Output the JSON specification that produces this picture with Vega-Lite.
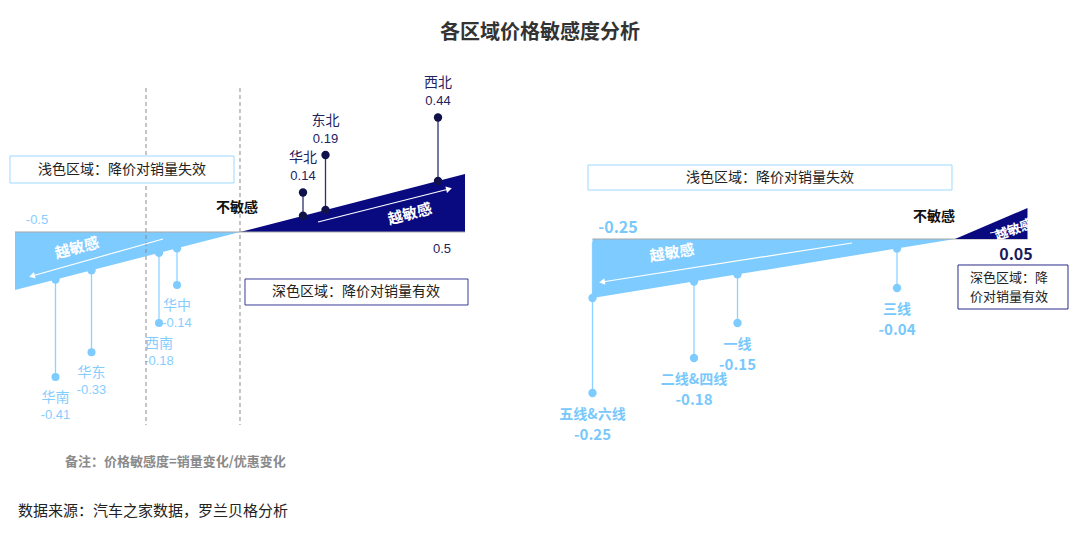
{
  "$schema": "https://vega.github.io/schema/vega-lite/v6.json",
  "width": 1080,
  "height": 542,
  "autosize": {"type": "fit", "contains": "padding"},
  "padding": 0,
  "background": "white",
  "config": {
    "axis": {"disable": true},
    "legend": {"disable": true},
    "view": {"stroke": null},
    "text": {"font": "Liberation Sans, Noto Sans CJK SC", "baseline": "middle", "align": "center"}
  },
  "datasets": {
    "regions": [
      {"region": "华南", "value": -0.41},
      {"region": "华东", "value": -0.33},
      {"region": "西南", "value": -0.18},
      {"region": "华中", "value": -0.14},
      {"region": "华北", "value": 0.14},
      {"region": "东北", "value": 0.19},
      {"region": "西北", "value": 0.44}
    ],
    "tiers": [
      {"tier": "五线&六线", "value": -0.25},
      {"tier": "二线&四线", "value": -0.18},
      {"tier": "一线", "value": -0.15},
      {"tier": "三线", "value": -0.04}
    ],
    "leftScale": [
      {"v": -0.5, "zone": "失效"},
      {"v": 0, "zone": "失效"},
      {"v": 0, "zone": "有效"},
      {"v": 0.5, "zone": "有效"}
    ],
    "rightLight": [{"v": -0.25}, {"v": 0}],
    "rightDark": [{"v": 0}, {"v": 0.05}]
  },
  "data": {"values": [{}]},
  "resolve": {"scale": {"x": "independent", "y": "independent", "color": "independent"}},
  "layer": [
    {
      "data": {"name": "regions"},
      "transform": [
        {"filter": "datum.value > 0"},
        {"window": [{"op": "rank", "as": "lvl"}], "sort": [{"field": "value", "order": "ascending"}]}
      ],
      "layer": [
        {
          "mark": {"type": "rule", "color": "#2e2e6e", "strokeWidth": 1.3},
          "encoding": {
            "x": {"field": "value", "type": "quantitative", "scale": {"domain": [-0.533333, 1.866667], "nice": false, "zero": false}},
            "y": {"field": "lvl", "type": "quantitative", "scale": {"domain": [-8.32, 6.133333], "nice": false, "zero": false}},
            "y2": {"datum": 0}
          }
        },
        {
          "mark": {"type": "point", "filled": true, "size": 70, "opacity": 1, "color": "#10104a"},
          "encoding": {
            "x": {"field": "value", "type": "quantitative", "scale": {"domain": [-0.533333, 1.866667], "nice": false, "zero": false}},
            "y": {"field": "lvl", "type": "quantitative", "scale": {"domain": [-8.32, 6.133333], "nice": false, "zero": false}}
          }
        },
        {
          "mark": {"type": "text", "dy": -34, "fontSize": 14, "color": "#23235f"},
          "encoding": {
            "x": {"field": "value", "type": "quantitative", "scale": {"domain": [-0.533333, 1.866667], "nice": false, "zero": false}},
            "y": {"field": "lvl", "type": "quantitative", "scale": {"domain": [-8.32, 6.133333], "nice": false, "zero": false}},
            "text": {"field": "region", "type": "nominal"}
          }
        },
        {
          "mark": {"type": "text", "dy": -16, "fontSize": 13, "color": "#23235f"},
          "encoding": {
            "x": {"field": "value", "type": "quantitative", "scale": {"domain": [-0.533333, 1.866667], "nice": false, "zero": false}},
            "y": {"field": "lvl", "type": "quantitative", "scale": {"domain": [-8.32, 6.133333], "nice": false, "zero": false}},
            "text": {"field": "value", "type": "nominal"}
          }
        }
      ]
    },
    {
      "data": {"name": "regions"},
      "transform": [
        {"filter": "datum.value < 0"},
        {"window": [{"op": "rank", "as": "lvl"}], "sort": [{"field": "value", "order": "descending"}]}
      ],
      "layer": [
        {
          "mark": {"type": "rule", "color": "#8fd2ff", "strokeWidth": 1.3},
          "encoding": {
            "x": {"field": "value", "type": "quantitative", "scale": {"domain": [-0.533333, 1.866667], "nice": false, "zero": false}},
            "y": {"field": "lvl", "type": "quantitative", "scale": {"type": "sqrt", "domain": [-4.400874, 14.390477], "reverse": true, "nice": false, "zero": false}},
            "y2": {"datum": 0.23}
          }
        },
        {
          "mark": {"type": "point", "filled": true, "size": 64, "opacity": 1, "color": "#7ecbff"},
          "encoding": {
            "x": {"field": "value", "type": "quantitative", "scale": {"domain": [-0.533333, 1.866667], "nice": false, "zero": false}},
            "y": {"field": "lvl", "type": "quantitative", "scale": {"type": "sqrt", "domain": [-4.400874, 14.390477], "reverse": true, "nice": false, "zero": false}}
          }
        },
        {
          "mark": {"type": "text", "dy": 21, "fontSize": 14, "color": "#86cdff"},
          "encoding": {
            "x": {"field": "value", "type": "quantitative", "scale": {"domain": [-0.533333, 1.866667], "nice": false, "zero": false}},
            "y": {"field": "lvl", "type": "quantitative", "scale": {"type": "sqrt", "domain": [-4.400874, 14.390477], "reverse": true, "nice": false, "zero": false}},
            "text": {"field": "region", "type": "nominal"}
          }
        },
        {
          "mark": {"type": "text", "dy": 38, "fontSize": 13, "color": "#86cdff"},
          "encoding": {
            "x": {"field": "value", "type": "quantitative", "scale": {"domain": [-0.533333, 1.866667], "nice": false, "zero": false}},
            "y": {"field": "lvl", "type": "quantitative", "scale": {"type": "sqrt", "domain": [-4.400874, 14.390477], "reverse": true, "nice": false, "zero": false}},
            "text": {"field": "value", "type": "nominal"}
          }
        }
      ]
    },
    {
      "data": {"name": "tiers"},
      "transform": [
        {"window": [{"op": "rank", "as": "lvl"}], "sort": [{"field": "value", "order": "descending"}]}
      ],
      "layer": [
        {
          "mark": {"type": "rule", "color": "#8fd2ff", "strokeWidth": 1.3},
          "encoding": {
            "x": {"field": "value", "type": "quantitative", "scale": {"domain": [-0.658621, 0.086207], "nice": false, "zero": false}},
            "y": {"field": "lvl", "type": "quantitative", "scale": {"domain": [-7.228571, 8.257143], "reverse": true, "nice": false, "zero": false}},
            "y2": {"datum": -0.31}
          }
        },
        {
          "mark": {"type": "point", "filled": true, "size": 70, "opacity": 1, "color": "#7ecbff"},
          "encoding": {
            "x": {"field": "value", "type": "quantitative", "scale": {"domain": [-0.658621, 0.086207], "nice": false, "zero": false}},
            "y": {"field": "lvl", "type": "quantitative", "scale": {"domain": [-7.228571, 8.257143], "reverse": true, "nice": false, "zero": false}}
          }
        },
        {
          "mark": {"type": "text", "dy": 22, "fontSize": 14, "fontWeight": "bold", "font": "Noto Sans CJK SC", "color": "#79c8fb"},
          "encoding": {
            "x": {"field": "value", "type": "quantitative", "scale": {"domain": [-0.658621, 0.086207], "nice": false, "zero": false}},
            "y": {"field": "lvl", "type": "quantitative", "scale": {"domain": [-7.228571, 8.257143], "reverse": true, "nice": false, "zero": false}},
            "text": {"field": "tier", "type": "nominal"}
          }
        },
        {
          "mark": {"type": "text", "dy": 42, "fontSize": 15, "fontWeight": "bold", "font": "Noto Sans CJK SC", "color": "#79c8fb"},
          "encoding": {
            "x": {"field": "value", "type": "quantitative", "scale": {"domain": [-0.658621, 0.086207], "nice": false, "zero": false}},
            "y": {"field": "lvl", "type": "quantitative", "scale": {"domain": [-7.228571, 8.257143], "reverse": true, "nice": false, "zero": false}},
            "text": {"field": "value", "type": "nominal"}
          }
        }
      ]
    },
    {
      "layer": [
        {
          "data": {"name": "leftScale"},
          "mark": {"type": "area", "opacity": 1},
          "encoding": {
            "x": {"field": "v", "type": "quantitative", "scale": {"domain": [-0.533333, 1.866667], "nice": false, "zero": false}},
            "y": {"field": "v", "type": "quantitative", "stack": null, "scale": {"domain": [-2.672414, 2], "nice": false, "zero": false}},
            "y2": {"datum": 0},
            "color": {"field": "zone", "type": "nominal", "scale": {"domain": ["失效", "有效"], "range": ["#7ecbff", "#0a0a80"]}, "legend": null}
          }
        },
        {
          "mark": {"type": "rule", "color": "#a8a8a8", "strokeWidth": 1},
          "encoding": {
            "x": {"datum": -0.5, "type": "quantitative", "scale": {"domain": [-0.533333, 1.866667], "nice": false, "zero": false}},
            "x2": {"datum": 0.5},
            "y": {"datum": 0, "type": "quantitative", "scale": {"domain": [-2.672414, 2], "nice": false, "zero": false}}
          }
        },
        {
          "mark": {"type": "rule", "color": "#8a8a8a", "strokeWidth": 1, "strokeDash": [4, 3]},
          "encoding": {
            "x": {"datum": -0.208889, "type": "quantitative", "scale": {"domain": [-0.533333, 1.866667], "nice": false, "zero": false}},
            "y": {"datum": 1.241379, "type": "quantitative", "scale": {"domain": [-2.672414, 2], "nice": false, "zero": false}},
            "y2": {"datum": -1.663793}
          }
        },
        {
          "mark": {"type": "rule", "color": "#8a8a8a", "strokeWidth": 1, "strokeDash": [4, 3]},
          "encoding": {
            "x": {"datum": 0, "type": "quantitative", "scale": {"domain": [-0.533333, 1.866667], "nice": false, "zero": false}},
            "y": {"datum": 1.241379, "type": "quantitative", "scale": {"domain": [-2.672414, 2], "nice": false, "zero": false}},
            "y2": {"datum": -1.663793}
          }
        },
        {
          "mark": {"type": "rect", "fill": "white", "stroke": "#9fd8ff", "strokeWidth": 1},
          "encoding": {
            "x": {"datum": -0.511111, "type": "quantitative", "scale": {"domain": [-0.533333, 1.866667], "nice": false, "zero": false}},
            "x2": {"datum": -0.013333},
            "y": {"datum": 0.655172, "type": "quantitative", "scale": {"domain": [-2.672414, 2], "nice": false, "zero": false}},
            "y2": {"datum": 0.422414}
          }
        },
        {
          "mark": {"type": "rect", "fill": "white", "stroke": "#3b3b9a", "strokeWidth": 1},
          "encoding": {
            "x": {"datum": 0.011111, "type": "quantitative", "scale": {"domain": [-0.533333, 1.866667], "nice": false, "zero": false}},
            "x2": {"datum": 0.506667},
            "y": {"datum": -0.405172, "type": "quantitative", "scale": {"domain": [-2.672414, 2], "nice": false, "zero": false}},
            "y2": {"datum": -0.62931}
          }
        },
        {
          "mark": {"type": "text", "text": "浅色区域：降价对销量失效", "fontSize": 14, "font": "Noto Sans CJK SC", "color": "#222222"},
          "encoding": {
            "x": {"datum": -0.262222, "type": "quantitative", "scale": {"domain": [-0.533333, 1.866667], "nice": false, "zero": false}},
            "y": {"datum": 0.538793, "type": "quantitative", "scale": {"domain": [-2.672414, 2], "nice": false, "zero": false}}
          }
        },
        {
          "mark": {"type": "text", "text": "深色区域：降价对销量有效", "fontSize": 14, "font": "Noto Sans CJK SC", "color": "#222222"},
          "encoding": {
            "x": {"datum": 0.257778, "type": "quantitative", "scale": {"domain": [-0.533333, 1.866667], "nice": false, "zero": false}},
            "y": {"datum": -0.517241, "type": "quantitative", "scale": {"domain": [-2.672414, 2], "nice": false, "zero": false}}
          }
        },
        {
          "data": {"name": "regions"},
          "mark": {"type": "point", "filled": true, "size": 70, "opacity": 1},
          "encoding": {
            "x": {"field": "value", "type": "quantitative", "scale": {"domain": [-0.533333, 1.866667], "nice": false, "zero": false}},
            "y": {"field": "value", "type": "quantitative", "scale": {"domain": [-2.672414, 2], "nice": false, "zero": false}},
            "color": {"condition": {"test": "datum.value > 0", "value": "#12124a"}, "value": "#7ecbff"}
          }
        },
        {
          "mark": {"type": "rule", "color": "white", "strokeWidth": 1.2},
          "encoding": {
            "x": {"datum": -0.171111, "type": "quantitative", "scale": {"domain": [-0.533333, 1.866667], "nice": false, "zero": false}},
            "x2": {"datum": -0.462222},
            "y": {"datum": -0.060345, "type": "quantitative", "scale": {"domain": [-2.672414, 2], "nice": false, "zero": false}},
            "y2": {"datum": -0.37931}
          }
        },
        {
          "mark": {"type": "point", "shape": "triangle-left", "filled": true, "color": "white", "size": 45, "angle": -15, "opacity": 1},
          "encoding": {
            "x": {"datum": -0.462222, "type": "quantitative", "scale": {"domain": [-0.533333, 1.866667], "nice": false, "zero": false}},
            "y": {"datum": -0.37931, "type": "quantitative", "scale": {"domain": [-2.672414, 2], "nice": false, "zero": false}}
          }
        },
        {
          "mark": {"type": "rule", "color": "white", "strokeWidth": 1.2},
          "encoding": {
            "x": {"datum": 0.173333, "type": "quantitative", "scale": {"domain": [-0.533333, 1.866667], "nice": false, "zero": false}},
            "x2": {"datum": 0.464444},
            "y": {"datum": 0.086207, "type": "quantitative", "scale": {"domain": [-2.672414, 2], "nice": false, "zero": false}},
            "y2": {"datum": 0.37069}
          }
        },
        {
          "mark": {"type": "point", "shape": "triangle-right", "filled": true, "color": "white", "size": 45, "angle": -14, "opacity": 1},
          "encoding": {
            "x": {"datum": 0.464444, "type": "quantitative", "scale": {"domain": [-0.533333, 1.866667], "nice": false, "zero": false}},
            "y": {"datum": 0.37069, "type": "quantitative", "scale": {"domain": [-2.672414, 2], "nice": false, "zero": false}}
          }
        },
        {
          "mark": {"type": "text", "text": "越敏感", "fontSize": 15, "fontWeight": "bold", "font": "Noto Sans CJK SC", "color": "white", "angle": -15},
          "encoding": {
            "x": {"datum": -0.362222, "type": "quantitative", "scale": {"domain": [-0.533333, 1.866667], "nice": false, "zero": false}},
            "y": {"datum": -0.137931, "type": "quantitative", "scale": {"domain": [-2.672414, 2], "nice": false, "zero": false}}
          }
        },
        {
          "mark": {"type": "text", "text": "越敏感", "fontSize": 15, "fontWeight": "bold", "font": "Noto Sans CJK SC", "color": "white", "angle": -15},
          "encoding": {
            "x": {"datum": 0.377778, "type": "quantitative", "scale": {"domain": [-0.533333, 1.866667], "nice": false, "zero": false}},
            "y": {"datum": 0.155172, "type": "quantitative", "scale": {"domain": [-2.672414, 2], "nice": false, "zero": false}}
          }
        },
        {
          "mark": {"type": "text", "text": "-0.5", "fontSize": 13, "color": "#86cdff"},
          "encoding": {
            "x": {"datum": -0.451111, "type": "quantitative", "scale": {"domain": [-0.533333, 1.866667], "nice": false, "zero": false}},
            "y": {"datum": 0.103448, "type": "quantitative", "scale": {"domain": [-2.672414, 2], "nice": false, "zero": false}}
          }
        },
        {
          "mark": {"type": "text", "text": "0.5", "fontSize": 13, "color": "#23235f"},
          "encoding": {
            "x": {"datum": 0.448889, "type": "quantitative", "scale": {"domain": [-0.533333, 1.866667], "nice": false, "zero": false}},
            "y": {"datum": -0.146552, "type": "quantitative", "scale": {"domain": [-2.672414, 2], "nice": false, "zero": false}}
          }
        },
        {
          "mark": {"type": "text", "text": "不敏感", "fontSize": 14, "fontWeight": "bold", "font": "Noto Sans CJK SC", "color": "#111111"},
          "encoding": {
            "x": {"datum": -0.006667, "type": "quantitative", "scale": {"domain": [-0.533333, 1.866667], "nice": false, "zero": false}},
            "y": {"datum": 0.206897, "type": "quantitative", "scale": {"domain": [-2.672414, 2], "nice": false, "zero": false}}
          }
        },
        {
          "mark": {"type": "text", "text": "各区域价格敏感度分析", "fontSize": 20, "fontWeight": "bold", "font": "Noto Sans CJK SC", "color": "#333333"},
          "encoding": {
            "x": {"datum": 0.666667, "type": "quantitative", "scale": {"domain": [-0.533333, 1.866667], "nice": false, "zero": false}},
            "y": {"datum": 1.715517, "type": "quantitative", "scale": {"domain": [-2.672414, 2], "nice": false, "zero": false}}
          }
        },
        {
          "mark": {"type": "text", "text": "备注：价格敏感度=销量变化/优惠变化", "fontSize": 13, "fontWeight": "bold", "font": "Noto Sans CJK SC", "color": "#8a8a8a", "align": "left"},
          "encoding": {
            "x": {"datum": -0.388889, "type": "quantitative", "scale": {"domain": [-0.533333, 1.866667], "nice": false, "zero": false}},
            "y": {"datum": -1.982759, "type": "quantitative", "scale": {"domain": [-2.672414, 2], "nice": false, "zero": false}}
          }
        },
        {
          "mark": {"type": "text", "text": "数据来源：汽车之家数据，罗兰贝格分析", "fontSize": 15, "font": "Noto Sans CJK SC", "color": "#222222", "align": "left"},
          "encoding": {
            "x": {"datum": -0.493333, "type": "quantitative", "scale": {"domain": [-0.533333, 1.866667], "nice": false, "zero": false}},
            "y": {"datum": -2.405172, "type": "quantitative", "scale": {"domain": [-2.672414, 2], "nice": false, "zero": false}}
          }
        }
      ]
    },
    {
      "layer": [
        {
          "data": {"name": "rightLight"},
          "mark": {"type": "area", "color": "#7ecbff", "opacity": 1},
          "encoding": {
            "x": {"field": "v", "type": "quantitative", "scale": {"domain": [-0.658621, 0.086207], "nice": false, "zero": false}},
            "y": {"field": "v", "type": "quantitative", "stack": null, "scale": {"domain": [-1.283898, 1.012712], "nice": false, "zero": false}},
            "y2": {"datum": 0}
          }
        },
        {
          "mark": {"type": "rule", "color": "#a8a8a8", "strokeWidth": 1},
          "encoding": {
            "x": {"datum": -0.25, "type": "quantitative", "scale": {"domain": [-0.658621, 0.086207], "nice": false, "zero": false}},
            "x2": {"datum": 0.05},
            "y": {"datum": 0, "type": "quantitative", "scale": {"domain": [-1.283898, 1.012712], "nice": false, "zero": false}}
          }
        },
        {
          "mark": {"type": "rect", "fill": "white", "stroke": "#9fd8ff", "strokeWidth": 1},
          "encoding": {
            "x": {"datum": -0.253103, "type": "quantitative", "scale": {"domain": [-0.658621, 0.086207], "nice": false, "zero": false}},
            "x2": {"datum": -0.002069},
            "y": {"datum": 0.313559, "type": "quantitative", "scale": {"domain": [-1.283898, 1.012712], "nice": false, "zero": false}},
            "y2": {"datum": 0.207627}
          }
        },
        {
          "mark": {"type": "rect", "fill": "white", "stroke": "#2a2a8a", "strokeWidth": 1},
          "encoding": {
            "x": {"datum": 0.002069, "type": "quantitative", "scale": {"domain": [-0.658621, 0.086207], "nice": false, "zero": false}},
            "x2": {"datum": 0.077931},
            "y": {"datum": -0.110169, "type": "quantitative", "scale": {"domain": [-1.283898, 1.012712], "nice": false, "zero": false}},
            "y2": {"datum": -0.29661}
          }
        },
        {
          "mark": {"type": "text", "text": "浅色区域：降价对销量失效", "fontSize": 14, "font": "Noto Sans CJK SC", "color": "#222222"},
          "encoding": {
            "x": {"datum": -0.127586, "type": "quantitative", "scale": {"domain": [-0.658621, 0.086207], "nice": false, "zero": false}},
            "y": {"datum": 0.260593, "type": "quantitative", "scale": {"domain": [-1.283898, 1.012712], "nice": false, "zero": false}}
          }
        },
        {
          "mark": {"type": "text", "text": "深色区域：降", "fontSize": 13, "font": "Noto Sans CJK SC", "color": "#222222", "align": "left"},
          "encoding": {
            "x": {"datum": 0.010345, "type": "quantitative", "scale": {"domain": [-0.658621, 0.086207], "nice": false, "zero": false}},
            "y": {"datum": -0.165254, "type": "quantitative", "scale": {"domain": [-1.283898, 1.012712], "nice": false, "zero": false}}
          }
        },
        {
          "mark": {"type": "text", "text": "价对销量有效", "fontSize": 13, "font": "Noto Sans CJK SC", "color": "#222222", "align": "left"},
          "encoding": {
            "x": {"datum": 0.010345, "type": "quantitative", "scale": {"domain": [-0.658621, 0.086207], "nice": false, "zero": false}},
            "y": {"datum": -0.245763, "type": "quantitative", "scale": {"domain": [-1.283898, 1.012712], "nice": false, "zero": false}}
          }
        },
        {
          "data": {"name": "tiers"},
          "mark": {"type": "point", "filled": true, "size": 70, "opacity": 1, "color": "#7ecbff"},
          "encoding": {
            "x": {"field": "value", "type": "quantitative", "scale": {"domain": [-0.658621, 0.086207], "nice": false, "zero": false}},
            "y": {"field": "value", "type": "quantitative", "scale": {"domain": [-1.283898, 1.012712], "nice": false, "zero": false}}
          }
        },
        {
          "mark": {"type": "rule", "color": "white", "strokeWidth": 1.2},
          "encoding": {
            "x": {"datum": -0.071034, "type": "quantitative", "scale": {"domain": [-0.658621, 0.086207], "nice": false, "zero": false}},
            "x2": {"datum": -0.243448},
            "y": {"datum": -0.016949, "type": "quantitative", "scale": {"domain": [-1.283898, 1.012712], "nice": false, "zero": false}},
            "y2": {"datum": -0.182203}
          }
        },
        {
          "mark": {"type": "point", "shape": "triangle-left", "filled": true, "color": "white", "size": 45, "angle": -9, "opacity": 1},
          "encoding": {
            "x": {"datum": -0.243448, "type": "quantitative", "scale": {"domain": [-0.658621, 0.086207], "nice": false, "zero": false}},
            "y": {"datum": -0.182203, "type": "quantitative", "scale": {"domain": [-1.283898, 1.012712], "nice": false, "zero": false}}
          }
        },
        {
          "mark": {"type": "text", "text": "越敏感", "fontSize": 15, "fontWeight": "bold", "font": "Noto Sans CJK SC", "color": "white", "angle": -9},
          "encoding": {
            "x": {"datum": -0.195172, "type": "quantitative", "scale": {"domain": [-0.658621, 0.086207], "nice": false, "zero": false}},
            "y": {"datum": -0.059322, "type": "quantitative", "scale": {"domain": [-1.283898, 1.012712], "nice": false, "zero": false}}
          }
        },
        {
          "mark": {"type": "text", "text": "-0.25", "fontSize": 16, "fontWeight": "bold", "font": "Noto Sans CJK SC", "color": "#79c8fb"},
          "encoding": {
            "x": {"datum": -0.232414, "type": "quantitative", "scale": {"domain": [-0.658621, 0.086207], "nice": false, "zero": false}},
            "y": {"datum": 0.04661, "type": "quantitative", "scale": {"domain": [-1.283898, 1.012712], "nice": false, "zero": false}}
          }
        },
        {
          "mark": {"type": "text", "text": "0.05", "fontSize": 16, "fontWeight": "bold", "font": "Noto Sans CJK SC", "color": "#1a1a5e"},
          "encoding": {
            "x": {"datum": 0.042069, "type": "quantitative", "scale": {"domain": [-0.658621, 0.086207], "nice": false, "zero": false}},
            "y": {"datum": -0.067797, "type": "quantitative", "scale": {"domain": [-1.283898, 1.012712], "nice": false, "zero": false}}
          }
        },
        {
          "mark": {"type": "text", "text": "不敏感", "fontSize": 14, "fontWeight": "bold", "font": "Noto Sans CJK SC", "color": "#111111"},
          "encoding": {
            "x": {"datum": -0.014483, "type": "quantitative", "scale": {"domain": [-0.658621, 0.086207], "nice": false, "zero": false}},
            "y": {"datum": 0.09322, "type": "quantitative", "scale": {"domain": [-1.283898, 1.012712], "nice": false, "zero": false}}
          }
        }
      ]
    },
    {
      "layer": [
        {
          "data": {"name": "rightDark"},
          "mark": {"type": "area", "color": "#0a0a80", "opacity": 1},
          "encoding": {
            "x": {"field": "v", "type": "quantitative", "scale": {"domain": [-0.658621, 0.086207], "nice": false, "zero": false}},
            "y": {"field": "v", "type": "quantitative", "stack": null, "scale": {"domain": [-0.48871, 0.385484], "nice": false, "zero": false}},
            "y2": {"datum": 0}
          }
        },
        {
          "mark": {"type": "rule", "color": "white", "strokeWidth": 1},
          "encoding": {
            "x": {"datum": 0.024138, "type": "quantitative", "scale": {"domain": [-0.658621, 0.086207], "nice": false, "zero": false}},
            "x2": {"datum": 0.053793},
            "y": {"datum": 0.009677, "type": "quantitative", "scale": {"domain": [-0.48871, 0.385484], "nice": false, "zero": false}},
            "y2": {"datum": 0.022581}
          }
        },
        {
          "mark": {"type": "text", "text": "越敏感", "fontSize": 13, "fontWeight": "bold", "font": "Noto Sans CJK SC", "color": "white", "angle": -20},
          "encoding": {
            "x": {"datum": 0.04069, "type": "quantitative", "scale": {"domain": [-0.658621, 0.086207], "nice": false, "zero": false}},
            "y": {"datum": 0.014516, "type": "quantitative", "scale": {"domain": [-0.48871, 0.385484], "nice": false, "zero": false}}
          }
        }
      ]
    }
  ]
}
